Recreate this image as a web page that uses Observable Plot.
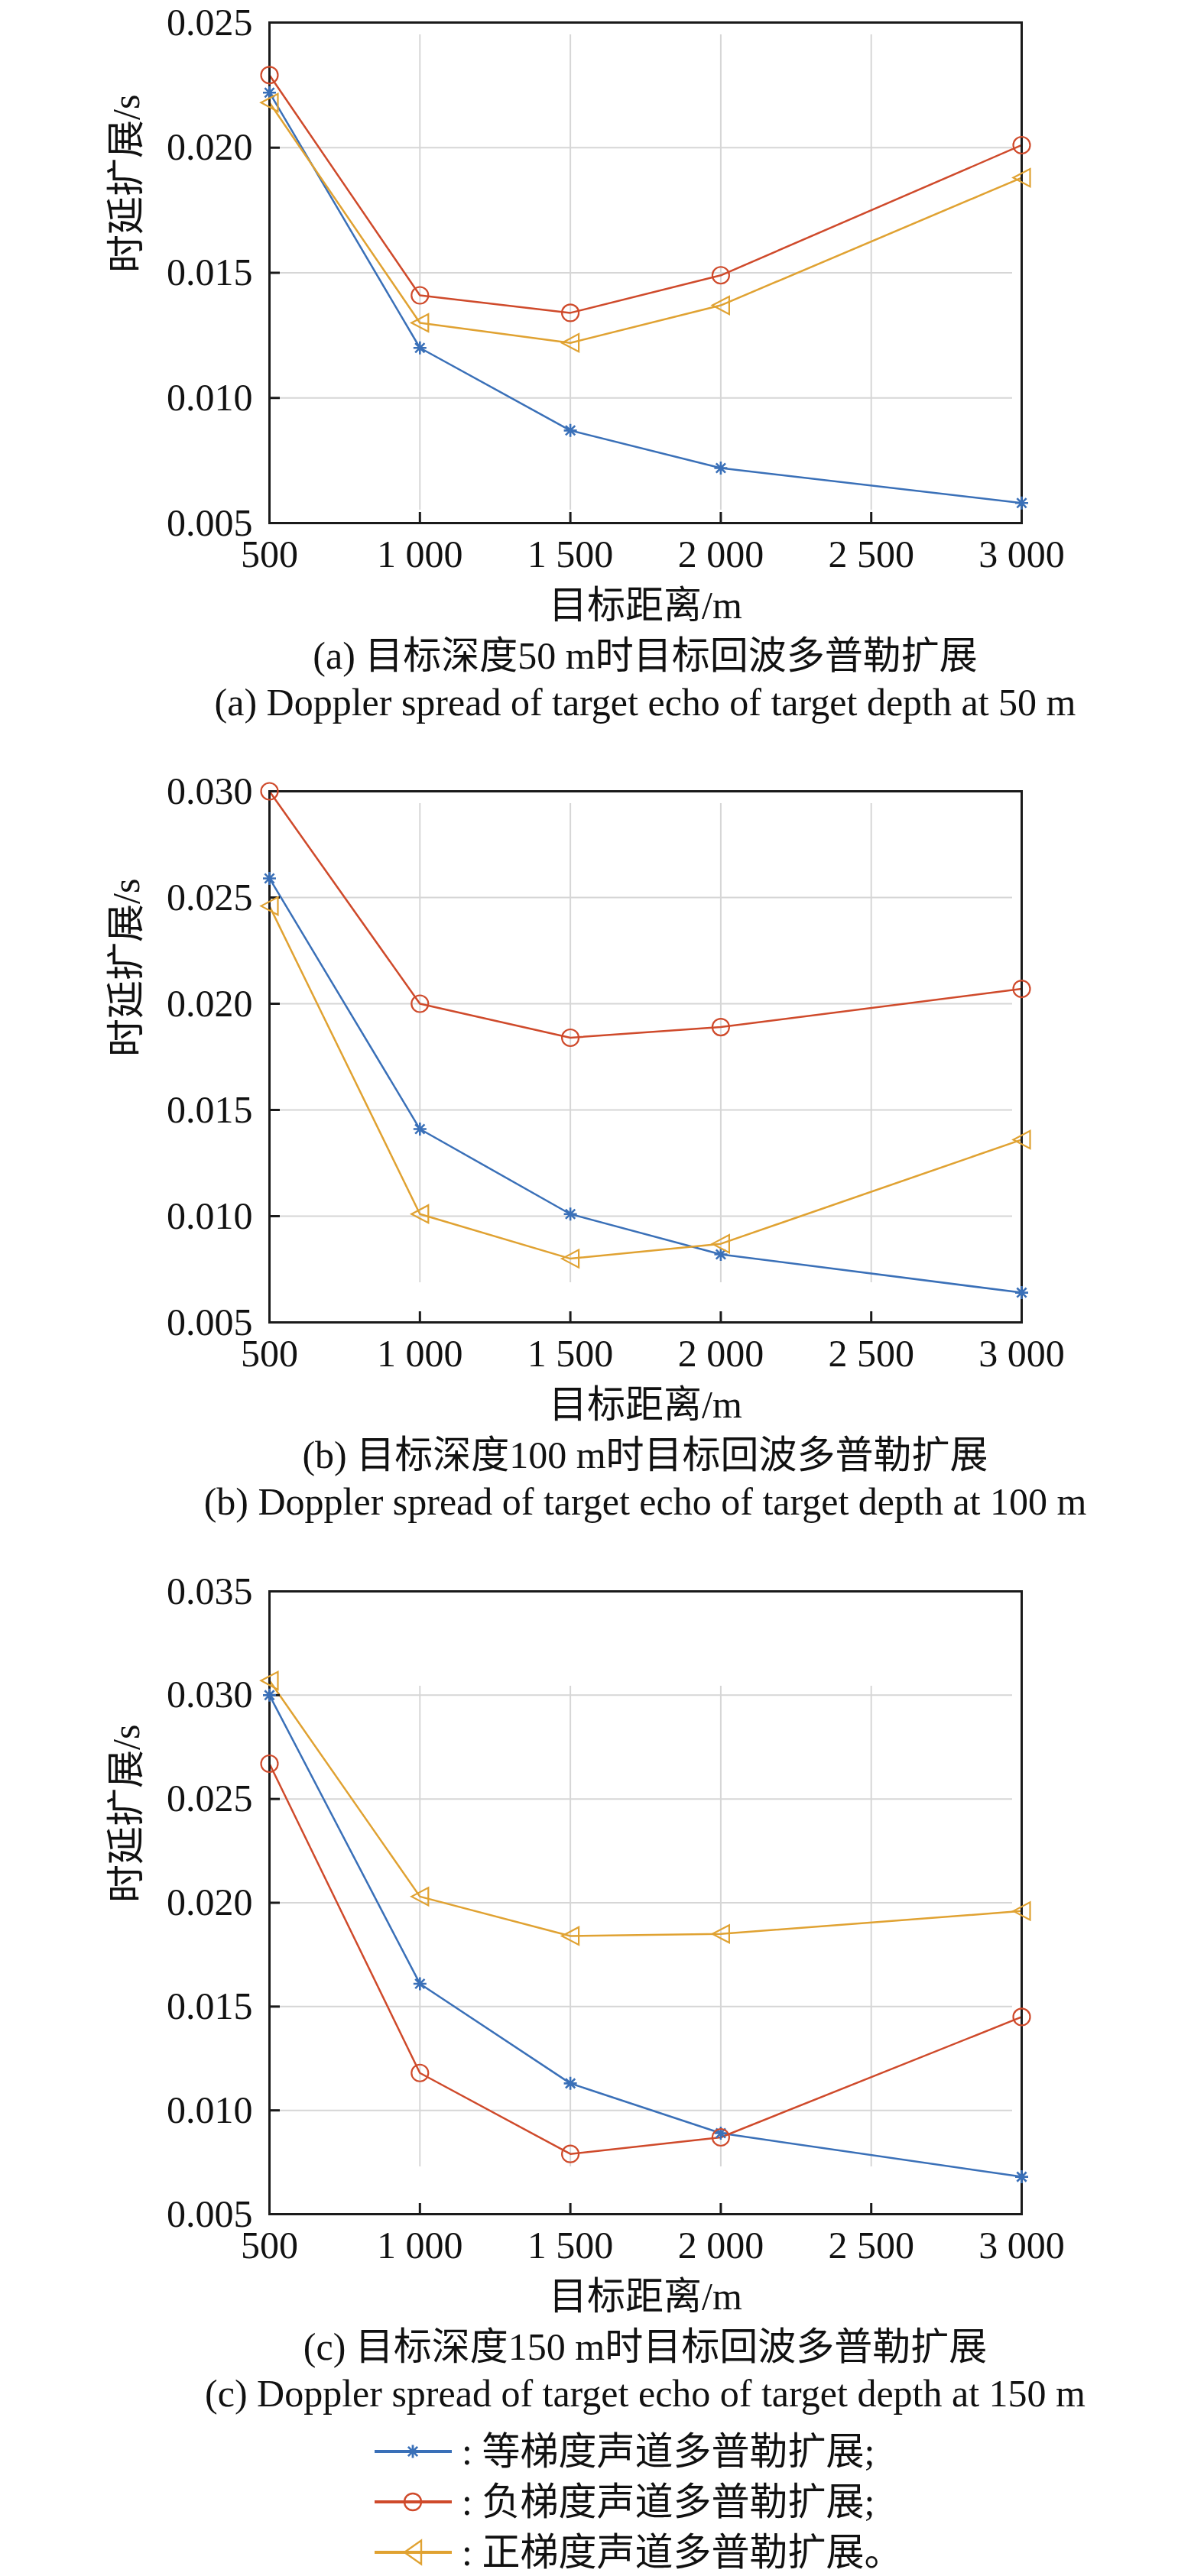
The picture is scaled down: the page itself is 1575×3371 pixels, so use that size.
<!DOCTYPE html>
<html>
<head>
<meta charset="utf-8">
<script src="https://cdn.jsdelivr.net/npm/d3@7"></script>
<script src="https://cdn.jsdelivr.net/npm/@observablehq/plot@0.6"></script>
<style>
html, body { margin: 0; padding: 0; background: #fff; }
#root { position: relative; width: 1575px; height: 3371px; overflow: hidden; background: #fff;
  font-family: "Liberation Serif", "Noto Sans CJK SC", serif; color: #111; }
.txt { position: absolute; font-size: 50px; line-height: 50px; white-space: nowrap; }
.ctr { left: 844px; transform: translateX(-50%); }
.panel { position: absolute; left: 0; }
.swatch { position: absolute; overflow: visible; }
</style>
</head>
<body>
<div id="root"></div>
<script>
// ---------------- data ----------------
const distances = [500, 1000, 1500, 2000, 3000];
const xTickValues = [500, 1000, 1500, 2000, 2500, 3000];
const seriesNames = ["等梯度声道多普勒扩展", "负梯度声道多普勒扩展", "正梯度声道多普勒扩展"];

// (a) target depth 50 m
const isoA = [0.0222, 0.0120, 0.0087, 0.0072, 0.0058];
const negA = [0.0229, 0.0141, 0.0134, 0.0149, 0.0201];
const posA = [0.0218, 0.0130, 0.0122, 0.0137, 0.0188];
// (b) target depth 100 m
const isoB = [0.0259, 0.0141, 0.0101, 0.0082, 0.0064];
const negB = [0.0300, 0.0200, 0.0184, 0.0189, 0.0207];
const posB = [0.0246, 0.0101, 0.0080, 0.0087, 0.0136];
// (c) target depth 150 m
const isoC = [0.0300, 0.0161, 0.0113, 0.0089, 0.0068];
const negC = [0.0267, 0.0118, 0.0079, 0.0087, 0.0145];
const posC = [0.0307, 0.0203, 0.0184, 0.0185, 0.0196];

const yTicksA = [0.005, 0.010, 0.015, 0.020, 0.025];
const yTicksB = [0.005, 0.010, 0.015, 0.020, 0.025, 0.030];
const yTicksC = [0.005, 0.010, 0.015, 0.020, 0.025, 0.030, 0.035];

const xLabel = "目标距离/m";
const yLabel = "时延扩展/s";
const captionsCN = ["(a) 目标深度50 m时目标回波多普勒扩展", "(b) 目标深度100 m时目标回波多普勒扩展", "(c) 目标深度150 m时目标回波多普勒扩展"];
const captionsEN = ["(a) Doppler spread of target echo of target depth at 50 m", "(b) Doppler spread of target echo of target depth at 100 m", "(c) Doppler spread of target echo of target depth at 150 m"];
const legendLabels = [": 等梯度声道多普勒扩展;", ": 负梯度声道多普勒扩展;", ": 正梯度声道多普勒扩展。"];

// ---------------- styling / layout ----------------
const colors = ["#3a70b8", "#cf4a2b", "#e0a232"];
const FONT = '"Liberation Serif", "Noto Sans CJK SC", serif';
const W = 1575, ML = 352, MR = 239, MT = 29, MB = 150;
const PW = W - ML - MR;
const layout = [
  {top: 29,   h: 655, gridTop: 16,  gridBottom: 17, ticks: yTicksA, vals: [isoA, negA, posA]},
  {top: 1035, h: 695, gridTop: 16,  gridBottom: 52, ticks: yTicksB, vals: [isoB, negB, posB]},
  {top: 2082, h: 815, gridTop: 124, gridBottom: 62, ticks: yTicksC, vals: [isoC, negC, posC]}
];

// custom marker symbols (d3 symbol type interface)
const asterisk = {
  draw(ctx, size) {
    const r = Math.sqrt(size / Math.PI), d = r * 0.72;
    ctx.moveTo(-r, 0); ctx.lineTo(r, 0);
    ctx.moveTo(0, -r); ctx.lineTo(0, r);
    ctx.moveTo(-d, -d); ctx.lineTo(d, d);
    ctx.moveTo(-d, d); ctx.lineTo(d, -d);
  }
};
const ring = {
  draw(ctx, size) {
    const r = Math.sqrt(size / Math.PI);
    ctx.moveTo(r, 0); ctx.arc(0, 0, r, 0, 2 * Math.PI);
  }
};
function triLeft(aspect) {
  return {
    draw(ctx, size) {
      const r = Math.sqrt(size / Math.PI);
      ctx.moveTo(-r, 0); ctx.lineTo(r, -r * aspect); ctx.lineTo(r, r * aspect); ctx.closePath();
    }
  };
}
const symbols = [asterisk, ring, triLeft(1.05)];
const radii = [8.5, 11, 11];

const fmtX = d => d >= 1000 ? d3.format(",")(d).replace(",", " ") : String(d);
const fmtY = d3.format(".3f");

const root = document.getElementById("root");

function addText(str, cls, left, baseline, extra) {
  const el = document.createElement("div");
  el.className = "txt " + cls;
  el.textContent = str;
  el.style.top = (baseline - 42) + "px";
  if (left != null) el.style.left = left + "px";
  if (extra) Object.assign(el.style, extra);
  root.appendChild(el);
}

layout.forEach((L, i) => {
  const rows = [];
  L.vals.forEach((arr, s) => arr.forEach((v, k) => rows.push({series: seriesNames[s], s, x: distances[k], y: v})));
  const bySeries = s => rows.filter(r => r.s === s);
  const ymax = L.ticks[L.ticks.length - 1];
  const chart = Plot.plot({
    width: W,
    height: MT + L.h + MB,
    marginLeft: ML, marginRight: MR, marginTop: MT, marginBottom: MB,
    style: {fontFamily: FONT, fontSize: "50px", background: "transparent", overflow: "visible", color: "#111"},
    x: {domain: [500, 3000]},
    y: {domain: [0.005, ymax]},
    marks: [
      Plot.ruleX(xTickValues.slice(1, -1), {stroke: "#d6d6d6", strokeWidth: 2, insetTop: L.gridTop, insetBottom: L.gridBottom}),
      Plot.ruleY(L.ticks.slice(1, -1), {stroke: "#d6d6d6", strokeWidth: 2, insetLeft: 14, insetRight: 12}),
      ...[0, 1, 2].map(s => Plot.line(bySeries(s), {x: "x", y: "y", stroke: colors[s], strokeWidth: 2.5})),
      Plot.frame({stroke: "#1a1a1a", strokeWidth: 3}),
      Plot.ruleX(xTickValues, {stroke: "#1a1a1a", strokeWidth: 3, insetTop: L.h - 14}),
      Plot.ruleY(L.ticks, {stroke: "#1a1a1a", strokeWidth: 3, insetRight: PW - 14}),
      ...[0, 1, 2].map(s => Plot.dot(bySeries(s), {x: "x", y: "y", symbol: symbols[s], r: radii[s], stroke: colors[s], fill: "none", strokeWidth: s === 0 ? 2.6 : 2.2})),
      Plot.axisX(xTickValues, {tickSize: 0, tickPadding: 22, tickFormat: fmtX, fontSize: 50, label: null, fill: "#111"}),
      Plot.axisY(L.ticks, {tickSize: 0, tickPadding: 22, tickFormat: fmtY, fontSize: 50, label: null, fill: "#111"}),
      Plot.text([xLabel], {frameAnchor: "bottom", dy: 124, lineAnchor: "bottom", fontSize: 50, fill: "#111"}),
      Plot.text([yLabel], {frameAnchor: "left", rotate: -90, dx: -187, fontSize: 50, fill: "#111"})
    ]
  });
  chart.classList.add("panel");
  chart.style.top = (L.top - MT) + "px";
  root.appendChild(chart);

  const bottom = L.top + L.h;
  addText(captionsCN[i], "ctr", null, bottom + 191);
  addText(captionsEN[i], "ctr", null, bottom + 252);
});

// ---------------- legend ----------------
const legendCenters = [3208, 3274, 3340];
const legendSymbols = [asterisk, ring, triLeft(1.4)];
const legendRadii = [8.5, 11, 11];
legendCenters.forEach((cy, s) => {
  const svg = d3.create("svg")
    .attr("class", "swatch")
    .attr("width", 104).attr("height", 44)
    .style("left", "489px").style("top", (cy - 22) + "px");
  svg.append("line").attr("x1", 1).attr("x2", 102).attr("y1", 22).attr("y2", 22)
    .attr("stroke", colors[s]).attr("stroke-width", 4);
  svg.append("path")
    .attr("transform", "translate(51,22)")
    .attr("d", d3.symbol(legendSymbols[s], Math.PI * legendRadii[s] ** 2)())
    .attr("fill", "none").attr("stroke", colors[s]).attr("stroke-width", s === 0 ? 2.8 : 2.4);
  root.appendChild(svg.node());
  addText(legendLabels[s], "", 604, cy + 17);
});
</script>
</body>
</html>
